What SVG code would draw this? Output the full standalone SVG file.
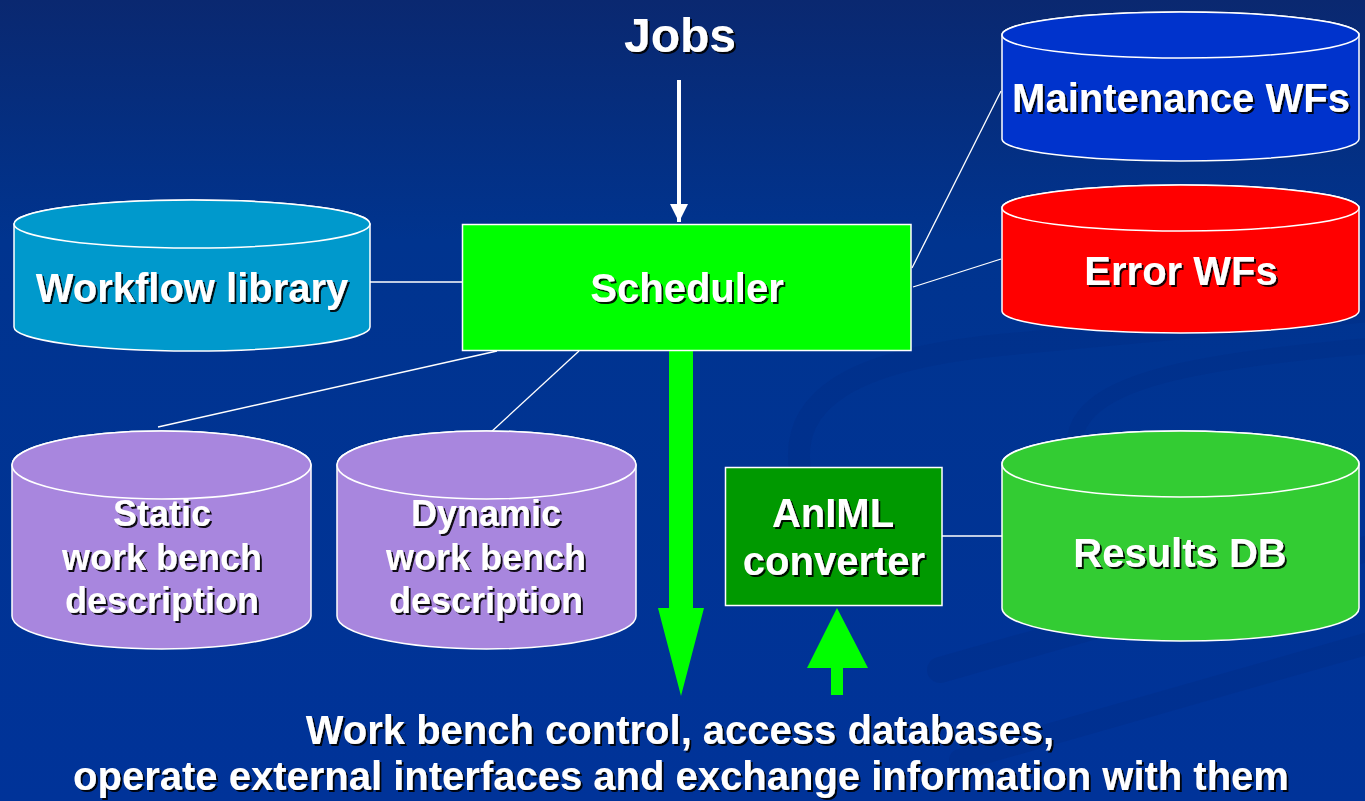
<svg xmlns="http://www.w3.org/2000/svg" width="1365" height="801" viewBox="0 0 1365 801">
  <defs>
    <linearGradient id="bg" x1="0" y1="0" x2="0" y2="1">
      <stop offset="0" stop-color="#0a2870"/>
      <stop offset="0.3" stop-color="#00348f"/>
      <stop offset="1" stop-color="#003399"/>
    </linearGradient>
    <filter id="shadow" x="-5%" y="-20%" width="110%" height="140%">
      <feDropShadow dx="2" dy="2" stdDeviation="0.4" flood-color="#000000" flood-opacity="0.9"/>
    </filter>
    <marker id="arrowWhite" viewBox="0 0 10 10" refX="10" refY="5" markerWidth="4.5" markerHeight="4.5" markerUnits="strokeWidth" orient="auto">
      <path d="M0,0 L10,5 L0,10 Z" fill="#ffffff"/>
    </marker>
  </defs>
  <style>
    .label { font-family: "Liberation Sans", Arial, sans-serif; font-weight: bold; fill: #ffffff; text-anchor: middle; filter: url(#shadow); }
    .edge { stroke: #ffffff; stroke-width: 1.3; fill: none; }
    .outline { stroke: #ffffff; stroke-width: 1.5; }
    .swirl { fill: none; stroke: #002a80; stroke-linecap: round; opacity: 0.3; }
  </style>

  <!-- background -->
  <rect x="0" y="0" width="1365" height="801" fill="url(#bg)"/>
  <g id="background-swirls">
    <path class="swirl" stroke-width="22" d="M800,470 C790,400 850,360 1000,345 C1150,330 1280,320 1380,310"/>
    <path class="swirl" stroke-width="16" d="M1075,440 C1080,380 1200,360 1380,345"/>
    <path class="swirl" stroke-width="26" d="M940,670 C1080,630 1220,590 1380,545"/>
    <path class="swirl" stroke-width="22" d="M960,760 C1100,720 1240,680 1380,640"/>
  </g>

  <!-- connectors -->
  <g id="connectors">
    <line class="edge" style="stroke-width:4" x1="679" y1="80" x2="679" y2="222" marker-end="url(#arrowWhite)"/>
    <line class="edge" x1="370" y1="282" x2="462" y2="282"/>
    <line class="edge" x1="497" y1="351" x2="158" y2="427"/>
    <line class="edge" x1="579" y1="351" x2="490" y2="433"/>
    <line class="edge" x1="912" y1="268" x2="1001" y2="91"/>
    <line class="edge" x1="913" y1="287" x2="1001" y2="259"/>
    <line class="edge" x1="942" y1="536" x2="1002" y2="536"/>
    <!-- scheduler output arrow -->
    <path d="M669,351 L693,351 L693,608 L704,608 L681,696 L658,608 L669,608 Z" fill="#00ff00"/>
    <!-- converter input arrow -->
    <path d="M831,695 L843,695 L843,668 L868,668 L837,608 L807,668 L831,668 Z" fill="#00ff00"/>
  </g>

  <g id="jobs">
    <text class="label" x="680" y="52" font-size="48">Jobs</text>
  </g>

  <g id="scheduler">
    <rect class="outline" x="462.5" y="224.5" width="448.5" height="126" fill="#00ff00"/>
    <text class="label" x="687" y="302" font-size="40">Scheduler</text>
  </g>

  <g id="workflow-library">
    <path class="outline" fill="#0099cc" d="M14,224 L14,327 A178,24 0 0 0 370,327 L370,224 A178,24 0 0 0 14,224 Z"/>
    <ellipse class="outline" cx="192" cy="224" rx="178" ry="24" fill="#0099cc"/>
    <text class="label" x="192" y="302" font-size="40">Workflow library</text>
  </g>

  <g id="maintenance-wfs">
    <path class="outline" fill="#0033cc" d="M1002,35 L1002,139 A178.5,22 0 0 0 1359,139 L1359,35 A178.5,23 0 0 0 1002,35 Z"/>
    <ellipse class="outline" cx="1180.5" cy="35" rx="178.5" ry="23" fill="#0033cc"/>
    <text class="label" x="1181" y="112" font-size="40">Maintenance WFs</text>
  </g>

  <g id="error-wfs">
    <path class="outline" fill="#ff0000" d="M1002,208 L1002,311 A178.5,22 0 0 0 1359,311 L1359,208 A178.5,23 0 0 0 1002,208 Z"/>
    <ellipse class="outline" cx="1180.5" cy="208" rx="178.5" ry="23" fill="#ff0000"/>
    <text class="label" x="1181" y="285" font-size="40">Error WFs</text>
  </g>

  <g id="static-description">
    <path class="outline" fill="#a886de" d="M12,465 L12,616 A149.5,33 0 0 0 311,616 L311,465 A149.5,34 0 0 0 12,465 Z"/>
    <ellipse class="outline" cx="161.5" cy="465" rx="149.5" ry="34" fill="#a886de"/>
    <text class="label" x="162" y="526" font-size="36">Static</text>
    <text class="label" x="162" y="570" font-size="36">work bench</text>
    <text class="label" x="162" y="613" font-size="36">description</text>
  </g>

  <g id="dynamic-description">
    <path class="outline" fill="#a886de" d="M337,465 L337,616 A149.5,33 0 0 0 636,616 L636,465 A149.5,34 0 0 0 337,465 Z"/>
    <ellipse class="outline" cx="486.5" cy="465" rx="149.5" ry="34" fill="#a886de"/>
    <text class="label" x="486" y="526" font-size="36">Dynamic</text>
    <text class="label" x="486" y="570" font-size="36">work bench</text>
    <text class="label" x="486" y="613" font-size="36">description</text>
  </g>

  <g id="animl-converter">
    <rect class="outline" x="725.5" y="467.5" width="216.5" height="138" fill="#009900"/>
    <text class="label" x="833" y="527" font-size="40">AnIML</text>
    <text class="label" x="834" y="575" font-size="40">converter</text>
  </g>

  <g id="results-db">
    <path class="outline" fill="#33cc33" d="M1002,464 L1002,608 A178.5,33 0 0 0 1359,608 L1359,464 A178.5,33 0 0 0 1002,464 Z"/>
    <ellipse class="outline" cx="1180.5" cy="464" rx="178.5" ry="33" fill="#33cc33"/>
    <text class="label" x="1180" y="567" font-size="40">Results DB</text>
  </g>

  <g id="workbench-caption">
    <text class="label" x="680" y="744" font-size="40">Work bench control, access databases,</text>
    <text class="label" x="681" y="790" font-size="40">operate external interfaces and exchange information with them</text>
  </g>
</svg>
